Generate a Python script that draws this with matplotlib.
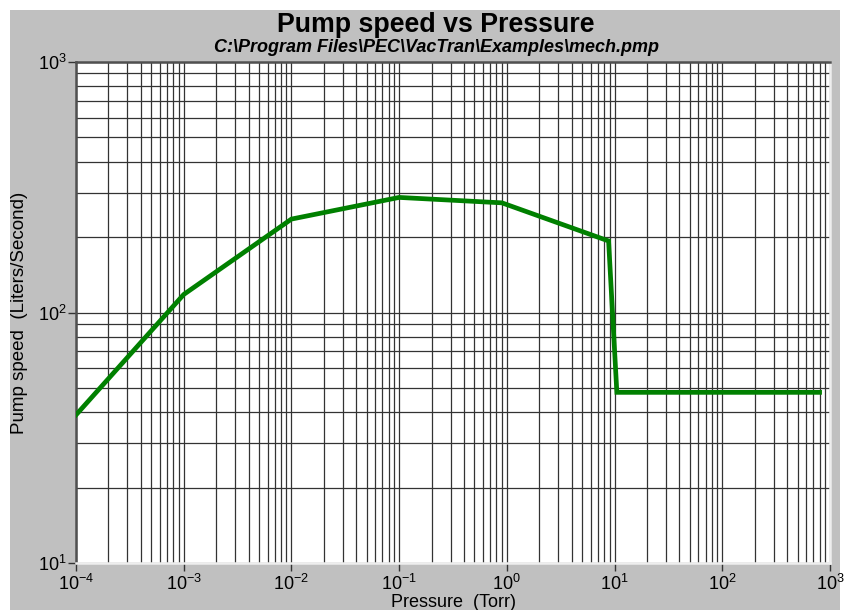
import matplotlib
matplotlib.use('Agg')
import matplotlib.pyplot as plt
from matplotlib.patches import Rectangle
from matplotlib.ticker import LogLocator, NullFormatter

plt.rcParams['font.family'] = ['Liberation Sans', 'DejaVu Sans']
plt.rcParams['mathtext.fontset'] = 'custom'
plt.rcParams['mathtext.rm'] = 'Liberation Sans'
plt.rcParams['mathtext.default'] = 'regular'

# values
pressure = [1e-4, 1e-3, 1e-2, 0.1, 0.9, 8.8, 10.5, 800]
speed = [39, 118, 236, 288, 274, 193, 48, 48]

x_decades = [-4, -3, -2, -1, 0, 1, 2, 3]
y_decades = [1, 2, 3]

title = 'Pump speed vs Pressure'
subtitle = 'C:\\Program Files\\PEC\\VacTran\\Examples\\mech.pmp'
xlabel = 'Pressure  (Torr)'
ylabel = 'Pump speed  (Liters/Second)'

W, H = 848, 610
fig = plt.figure(figsize=(W / 100, H / 100), dpi=100, facecolor='white')
# grey panel behind everything, white strip at top/left/right
fig.add_artist(Rectangle((10 / W, 0), 830 / W, 600 / H,
                         transform=fig.transFigure, facecolor='#c0c0c0',
                         edgecolor='none', zorder=-10))

ax = fig.add_axes([76 / W, 47 / H, 754 / W, 501 / H])
ax.set_facecolor('white')
ax.plot(pressure, speed, color='#008000', lw=3.4, solid_joinstyle='miter', zorder=3)

ax.set_xscale('log')
ax.set_yscale('log')
ax.set_xlim(10.0 ** x_decades[0], 10.0 ** x_decades[-1])
ax.set_ylim(10.0 ** y_decades[0], 10.0 ** y_decades[-1])

ax.set_xticks([10.0 ** d for d in x_decades],
              ['$10^{%d}$' % d for d in x_decades])
ax.set_yticks([10.0 ** d for d in y_decades],
              ['$10^{%d}$' % d for d in y_decades])
for axis in (ax.xaxis, ax.yaxis):
    axis.set_minor_locator(LogLocator(base=10, subs=range(2, 10), numticks=20))
    axis.set_minor_formatter(NullFormatter())

ax.grid(True, which='both', color='#333333', lw=0.9)
ax.set_axisbelow(True)
ax.tick_params(which='major', direction='out', length=6, width=1,
               color='#333333', labelsize=13)
ax.tick_params(axis='x', which='major', pad=1.5)
ax.tick_params(axis='y', which='major', pad=1)
ax.tick_params(which='minor', length=0)

ax.spines['top'].set_color('#505050')
ax.spines['left'].set_color('#505050')
ax.spines['bottom'].set_color('#eeeeee')
ax.spines['right'].set_color('#eeeeee')
for s in ax.spines.values():
    s.set_linewidth(1.8)

fig.text(436 / W, 1 - 25 / H, title, ha='center', va='center',
         fontsize=19.3, fontweight='bold')
fig.text(436 / W, 1 - 48 / H, subtitle, ha='center', va='center',
         fontsize=13, fontweight='bold', fontstyle='italic')
ax.set_xlabel(xlabel, fontsize=13, va='top')
ax.set_ylabel(ylabel, fontsize=13.5)
ax.xaxis.set_label_coords(0.5, -0.061)
ax.yaxis.set_label_coords(-0.064, 0.5)

fig.savefig('out.png', dpi=100, facecolor=fig.get_facecolor())
